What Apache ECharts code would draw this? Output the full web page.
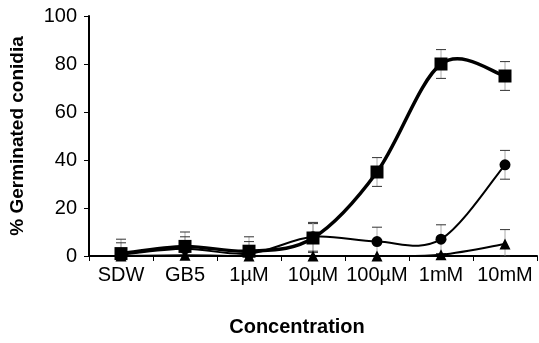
<!DOCTYPE html>
<html>
<head>
<meta charset="utf-8">
<script src="https://cdn.jsdelivr.net/npm/echarts@6/dist/echarts.min.js"></script>
<style>html,body{margin:0;padding:0;background:#fff;}#c{width:539px;height:343px;}</style>
</head>
<body>
<div id="c"></div>
<script>
const categories = ['SDW', 'GB5', '1µM', '10µM', '100µM', '1mM', '10mM'];
const squareVals = [1, 4, 2, 7.5, 35, 80, 75];
const squareErr = [6, 6, 6, 6, 6, 6, 6];
const circleVals = [0.5, 3, 1, 8, 6, 7, 38];
const circleErr = [5, 5, 5, 6, 6, 6, 6];
const triangleVals = [0, 0.3, 0, 0, 0, 0.5, 5];
const triangleErr = [0, 0, 0, 0, 0, 0, 6];
const yTicks = [0, 20, 40, 60, 80, 100];

const FONT = '"Liberation Sans", Arial, sans-serif';
const chart = echarts.init(document.getElementById('c'), null, {renderer: 'canvas'});

function errData(vals, errs) {
  return vals.map((v, i) => [i, v, errs[i]]);
}
function renderErr(params, api) {
  const i = api.value(0), v = api.value(1), e = api.value(2);
  if (!e) return null;
  const top = api.coord([i, v + e]);
  const bot = api.coord([i, Math.max(0, v - e)]);
  const hw = 5;
  return {
    type: 'group',
    children: [
      {type: 'line', shape: {x1: top[0], y1: top[1], x2: bot[0], y2: bot[1]}, style: {stroke: '#aaa', lineWidth: 1}},
      {type: 'line', shape: {x1: top[0] - hw, y1: top[1], x2: top[0] + hw, y2: top[1]}, style: {stroke: '#333', lineWidth: 1}},
      {type: 'line', shape: {x1: bot[0] - hw, y1: bot[1], x2: bot[0] + hw, y2: bot[1]}, style: {stroke: '#333', lineWidth: 1}}
    ]
  };
}
// Catmull-Rom style smoothed curve (spreadsheet smoothing), one segment per data item
function curveSeries(vals, width, z) {
  const n = vals.length;
  const cl = k => Math.max(0, Math.min(n - 1, k));
  return {
    type: 'custom', z: z, clip: false,
    data: vals.map((v, i) => [i, v]),
    renderItem: (params, api) => {
      const i = params.dataIndex;
      if (i === 0) return null;
      const p = k => api.coord([cl(k), vals[cl(k)]]);
      const p0 = p(i - 2), p1 = p(i - 1), p2 = p(i), p3 = p(i + 1);
      const c1 = [p1[0] + (p2[0] - p0[0]) / 6, p1[1] + (p2[1] - p0[1]) / 6];
      const c2 = [p2[0] - (p3[0] - p1[0]) / 6, p2[1] - (p3[1] - p1[1]) / 6];
      return {
        type: 'bezierCurve',
        shape: {x1: p1[0], y1: p1[1], x2: p2[0], y2: p2[1], cpx1: c1[0], cpy1: c1[1], cpx2: c2[0], cpy2: c2[1]},
        style: {stroke: '#000', lineWidth: width, fill: null, lineCap: 'round'}
      };
    }
  };
}

chart.setOption({
  animation: false,
  backgroundColor: '#fff',
  grid: {left: 88, right: 2, top: 16, bottom: 87, containLabel: false},
  xAxis: {
    type: 'category',
    data: categories,
    boundaryGap: true,
    axisLine: {lineStyle: {color: '#000', width: 2}},
    axisTick: {show: true, interval: 0, length: 5, lineStyle: {color: '#000', width: 1}},
    axisLabel: {color: '#000', fontSize: 20, fontFamily: FONT, margin: 9, interval: 0}
  },
  yAxis: {
    type: 'value',
    min: 0, max: 100, interval: 20,
    name: '% Germinated conidia',
    nameLocation: 'middle',
    nameRotate: 90,
    nameGap: 62,
    nameTextStyle: {color: '#000', fontSize: 19, fontWeight: 'bold', fontFamily: FONT},
    splitLine: {show: false},
    axisLine: {show: true, lineStyle: {color: '#000', width: 2}},
    axisTick: {show: true, length: 5, lineStyle: {color: '#000', width: 1}},
    axisLabel: {color: '#000', fontSize: 20, fontFamily: FONT, margin: 12,
      formatter: v => yTicks.includes(v) ? String(v) : ''}
  },
  graphic: [{
    type: 'text', x: 297, y: 327,
    style: {text: 'Concentration', fill: '#000', font: 'bold 20px ' + FONT, align: 'center', verticalAlign: 'middle'}
  }],
  series: [
    {type: 'custom', renderItem: renderErr, data: errData(squareVals, squareErr), z: 1, clip: false},
    {type: 'custom', renderItem: renderErr, data: errData(circleVals, circleErr), z: 1, clip: false},
    {type: 'custom', renderItem: renderErr, data: errData(triangleVals, triangleErr), z: 1, clip: false},
    curveSeries(triangleVals, 2, 3),
    curveSeries(circleVals, 2, 4),
    curveSeries(squareVals, 3.5, 5),
    {type: 'scatter', data: triangleVals, symbol: 'triangle', symbolSize: 11, itemStyle: {color: '#000', opacity: 1}, z: 6},
    {type: 'scatter', data: circleVals, symbol: 'circle', symbolSize: 11, itemStyle: {color: '#000', opacity: 1}, z: 6},
    {type: 'scatter', data: squareVals, symbol: 'rect', symbolSize: 13, itemStyle: {color: '#000', opacity: 1}, z: 7}
  ]
});
</script>
</body>
</html>
